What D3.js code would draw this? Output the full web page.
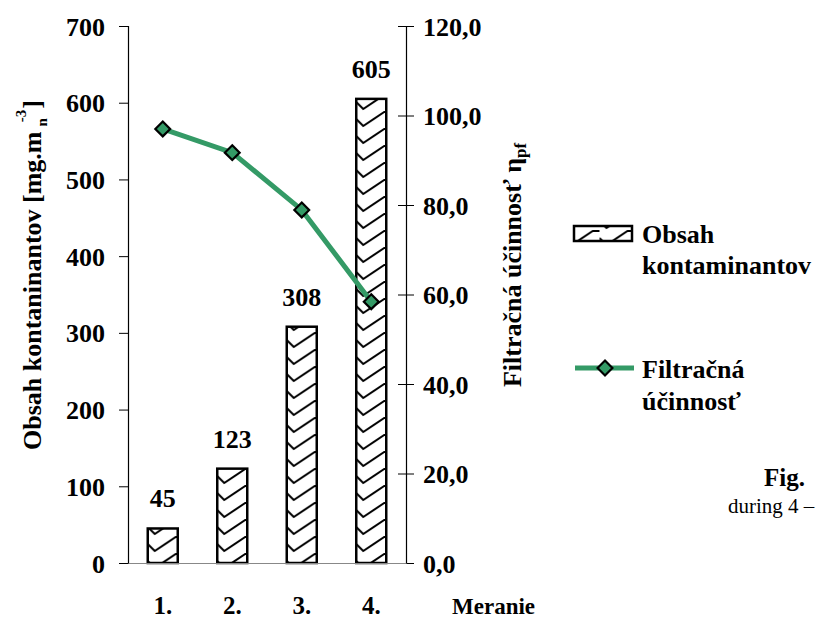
<!DOCTYPE html>
<html>
<head>
<meta charset="utf-8">
<script src="https://d3js.org/d3.v7.min.js"></script>
<style>
  body { margin: 0; background: #fff; }
  svg text { font-family: "Liberation Serif", "Times New Roman", serif; font-weight: bold; }
</style>
</head>
<body>
<svg id="chart" width="817" height="621"></svg>
<script>
// data
const categories = ["1.", "2.", "3.", "4."];
const contaminants = [45, 123, 308, 605];
const efficiency = [97.0, 91.7, 78.9, 58.4];
const leftTicks = [0, 100, 200, 300, 400, 500, 600, 700];
const rightTicks = [0, 20, 40, 60, 80, 100, 120];

const svg = d3.select("#chart");
const plotLeft = 128, plotRight = 406, plotTop = 26, plotBottom = 563;

const x = d3.scaleBand().domain(categories).range([plotLeft, plotRight]).padding(0);
const yL = d3.scaleLinear().domain([0, 700]).range([plotBottom, plotTop]);
const yR = d3.scaleLinear().domain([0, 120]).range([plotBottom, plotTop]);

const barW = 30;
const barX = (d, i) => x(categories[i]) + x.bandwidth() / 2 - barW / 2;

// zigzag hatch for the bars, half a band wide so every bar starts on the same phase
const tileW = x.step() / 2, tileH = 17;
const defs = svg.append("defs");
const pat = defs.append("pattern")
    .attr("id", "zig")
    .attr("patternUnits", "userSpaceOnUse")
    .attr("x", barX(0, 0))
    .attr("width", tileW).attr("height", tileH);
pat.append("rect").attr("width", tileW).attr("height", tileH).attr("fill", "#fff");
[-tileH, 0, tileH].forEach(k => {
  pat.append("path")
     .attr("d", `M0,${k} L7,${k + 7} L28,${k - 7} L${tileW},${k - 7}`)
     .attr("fill", "none")
     .attr("stroke", "#000")
     .attr("stroke-width", 2);
});

// bars
svg.selectAll(".bar")
   .data(contaminants)
   .enter().append("rect")
   .attr("class", "bar")
   .attr("x", barX)
   .attr("y", d => yL(d))
   .attr("width", barW)
   .attr("height", d => plotBottom - yL(d))
   .attr("fill", "url(#zig)")
   .attr("stroke", "#000")
   .attr("stroke-width", 2.5);

// bar value labels
svg.selectAll(".val")
   .data(contaminants)
   .enter().append("text")
   .attr("x", (d, i) => x(categories[i]) + x.bandwidth() / 2)
   .attr("y", d => yL(d) - 21)
   .attr("text-anchor", "middle")
   .attr("font-size", "26px")
   .text(d => d);

// axes
const axL = svg.append("g").attr("transform", `translate(${plotLeft},0)`)
   .call(d3.axisLeft(yL).tickValues(leftTicks).tickSize(9).tickPadding(14).tickFormat(d3.format("d")));
const axR = svg.append("g").attr("transform", `translate(${plotRight},0)`)
   .call(d3.axisRight(yR).tickValues(rightTicks).tickSize(8).tickPadding(9).tickFormat(d => d3.format(".1f")(d).replace(".", ",")));
axR.selectAll(".tick line").attr("x1", -8);
const axB = svg.append("g").attr("transform", `translate(0,${plotBottom})`)
   .call(d3.axisBottom(x).tickSize(0).tickPadding(33));

[axL, axR, axB].forEach(a => {
  a.select(".domain").attr("stroke", "#000").attr("stroke-width", 1.2);
  a.selectAll(".tick line").attr("stroke", "#000");
  a.selectAll("text")
   .attr("font-family", "Liberation Serif, Times New Roman, serif")
   .attr("font-weight", "bold")
   .attr("font-size", "26px")
   .attr("fill", "#000");
});
axB.select(".domain").attr("stroke", "#888");
axB.selectAll("text").attr("font-size", "25px");
axL.selectAll("text").attr("dy", "0.35em");
axR.selectAll("text").attr("dy", "0.35em");

// efficiency line
const green = "#349a66";
const line = d3.line()
   .x((d, i) => x(categories[i]) + x.bandwidth() / 2)
   .y(d => yR(d));
svg.append("path")
   .datum(efficiency)
   .attr("d", line)
   .attr("fill", "none")
   .attr("stroke", green)
   .attr("stroke-width", 5);

const diamond = d3.symbol().type(d3.symbolDiamond2).size(140);
svg.selectAll(".pt")
   .data(efficiency)
   .enter().append("path")
   .attr("d", diamond)
   .attr("transform", (d, i) => `translate(${x(categories[i]) + x.bandwidth() / 2},${yR(d)})`)
   .attr("fill", green)
   .attr("stroke", "#000")
   .attr("stroke-width", 2.2);

// axis titles
const tL = svg.append("text")
   .attr("transform", "translate(41,275) rotate(-90)")
   .attr("text-anchor", "middle")
   .attr("font-size", "26px");
tL.append("tspan").text("Obsah kontaninantov [mg.m");
tL.append("tspan").attr("font-size", "15px").attr("dy", 6).attr("dx", 5).text("n");
tL.append("tspan").attr("font-size", "15px").attr("dy", -21).attr("dx", -4).text("-3");
tL.append("tspan").attr("dy", 15).attr("dx", 1).text("]");

const tR = svg.append("text")
   .attr("transform", "translate(521,265) rotate(-90)")
   .attr("text-anchor", "middle")
   .attr("font-size", "26px");
tR.append("tspan").text("Filtračná účinnosť η");
tR.append("tspan").attr("font-size", "17px").attr("dy", 5).text("pf");

svg.append("text")
   .attr("x", 452).attr("y", 614)
   .attr("font-size", "23px")
   .text("Meranie");

// legend
const lg = svg.append("g");
lg.append("rect")
  .attr("x", 574).attr("y", 226).attr("width", 58).attr("height", 15)
  .attr("fill", "url(#zig)").attr("stroke", "#000").attr("stroke-width", 2.5);
lg.append("text").attr("x", 642).attr("y", 243).attr("font-size", "26px").text("Obsah");
lg.append("text").attr("x", 642).attr("y", 274).attr("font-size", "26px").text("kontaminantov");

lg.append("line")
  .attr("x1", 575).attr("x2", 634).attr("y1", 368).attr("y2", 368)
  .attr("stroke", green).attr("stroke-width", 5);
lg.append("path")
  .attr("d", diamond)
  .attr("transform", "translate(605,368)")
  .attr("fill", green).attr("stroke", "#000").attr("stroke-width", 2.2);
lg.append("text").attr("x", 642).attr("y", 378).attr("font-size", "26px").text("Filtračná");
lg.append("text").attr("x", 642).attr("y", 410).attr("font-size", "26px").text("účinnosť");

// caption fragment at the right edge
svg.append("text").attr("x", 764).attr("y", 486).attr("font-size", "25px").text("Fig.");
svg.append("text").attr("x", 728).attr("y", 513).attr("font-size", "21px")
   .style("font-weight", "normal").text("during 4 –");
</script>
</body>
</html>
